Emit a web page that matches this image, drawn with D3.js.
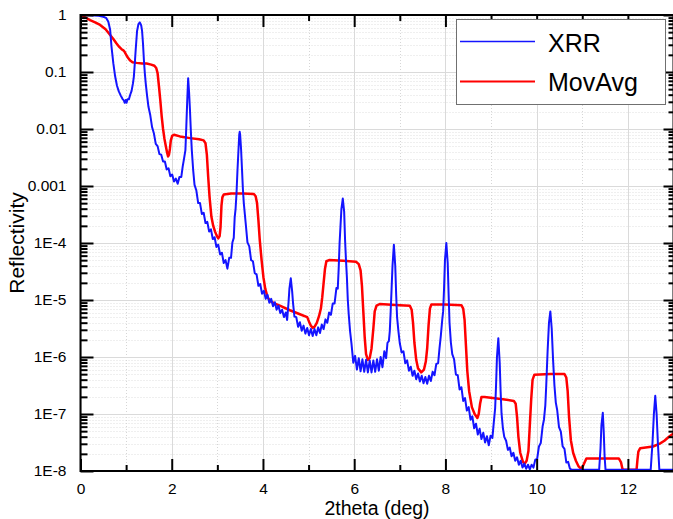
<!DOCTYPE html>
<html>
<head>
<meta charset="utf-8">
<script src="https://cdn.jsdelivr.net/npm/d3@7"></script>
<style>
  html, body { margin: 0; padding: 0; background: #ffffff; }
  svg { display: block; font-family: "Liberation Sans", Arial, sans-serif; }
</style>
</head>
<body>
<svg id="chart" width="673" height="519"></svg>
<script>
// Measured XRR scan: [2theta (deg), log10 reflectivity]
const xrrData = [
  [0,0],[0.2,-0.005],[0.4,-0.015],[0.5,-0.03],[0.56,-0.05],[0.61,-0.12],[0.65,-0.26],[0.68,-0.56],[0.72,-0.85],[0.76,-1.08],
  [0.80,-1.24],[0.84,-1.34],[0.88,-1.41],[0.92,-1.47],[0.95,-1.50],[0.97,-1.54],[0.99,-1.49],[1.01,-1.54],[1.03,-1.48],[1.06,-1.48],
  [1.09,-1.40],[1.12,-1.33],[1.15,-1.20],[1.17,-1.08],[1.19,-0.85],[1.21,-0.61],[1.24,-0.28],[1.27,-0.16],[1.30,-0.13],[1.33,-0.18],
  [1.35,-0.28],[1.37,-0.50],[1.39,-0.79],[1.41,-1.02],[1.43,-1.20],[1.46,-1.42],[1.49,-1.61],
  [1.53,-1.76],[1.57,-1.97],[1.61,-2.08],[1.65,-2.26],[1.69,-2.30],[1.73,-2.44],[1.77,-2.45],[1.81,-2.57],[1.85,-2.57],[1.89,-2.71],
  [1.93,-2.69],[1.97,-2.83],[2.01,-2.80],[2.05,-2.92],[2.09,-2.87],[2.13,-2.96],[2.17,-2.84],[2.21,-2.84],[2.24,-2.66],[2.27,-2.52],
  [2.30,-2.37],[2.32,-1.95],[2.34,-1.50],[2.36,-1.11],[2.38,-1.35],[2.40,-1.67],[2.42,-2.05],[2.44,-2.37],[2.47,-2.72],[2.50,-2.98],
  [2.54,-3.08],[2.58,-3.30],[2.62,-3.30],[2.66,-3.49],[2.70,-3.47],[2.74,-3.65],[2.78,-3.63],[2.82,-3.80],[2.86,-3.76],[2.90,-3.93],
  [2.94,-3.90],[2.98,-4.07],[3.02,-4.03],[3.06,-4.20],[3.10,-4.17],[3.14,-4.35],[3.18,-4.30],[3.22,-4.45],[3.26,-4.26],[3.30,-4.26],
  [3.33,-3.99],[3.36,-3.91],[3.38,-3.55],[3.40,-3.40],[3.42,-3.13],[3.44,-2.75],[3.46,-2.42],[3.48,-2.10],[3.49,-2.05],[3.50,-2.10],
  [3.52,-2.35],[3.54,-2.70],[3.56,-3.05],[3.58,-3.30],
  [3.62,-3.64],[3.66,-3.99],[3.70,-4.06],[3.74,-4.30],[3.78,-4.32],[3.82,-4.53],[3.86,-4.55],[3.90,-4.75],[3.94,-4.72],[3.98,-4.89],
  [4.02,-4.84],[4.06,-4.98],[4.10,-4.91],[4.14,-5.05],[4.18,-4.98],[4.22,-5.11],[4.26,-5.04],[4.30,-5.17],[4.34,-5.10],[4.38,-5.23],
  [4.42,-5.17],[4.46,-5.30],[4.50,-5.22],[4.53,-5.35],[4.56,-5.05],[4.58,-4.80],[4.61,-4.62],[4.64,-4.85],[4.66,-5.06],[4.69,-5.29],
  [4.73,-5.30],[4.77,-5.47],[4.81,-5.39],[4.85,-5.54],[4.89,-5.45],[4.93,-5.59],[4.97,-5.49],[5.01,-5.62],[5.05,-5.51],[5.09,-5.63],
  [5.13,-5.51],[5.17,-5.62],[5.21,-5.48],[5.25,-5.58],[5.29,-5.43],[5.33,-5.51],[5.37,-5.34],[5.41,-5.40],[5.45,-5.22],[5.49,-5.26],
  [5.53,-5.06],[5.57,-5.06],[5.61,-4.79],[5.64,-4.80],[5.66,-4.45],[5.68,-4.00],[5.70,-3.70],[5.72,-3.40],[5.75,-3.22],[5.78,-3.45],
  [5.80,-3.95],[5.82,-4.30],[5.84,-4.60],[5.86,-5.00],[5.88,-5.25],[5.91,-5.55],
  [5.94,-5.76],[5.98,-6.10],[6.02,-5.98],[6.06,-6.22],[6.10,-6.02],[6.14,-6.25],[6.18,-6.04],[6.22,-6.26],[6.26,-6.05],[6.30,-6.27],
  [6.34,-6.06],[6.38,-6.27],[6.42,-6.06],[6.46,-6.26],[6.50,-6.04],[6.54,-6.24],[6.58,-6.00],[6.62,-6.18],[6.66,-5.90],[6.70,-6.02],
  [6.73,-5.75],[6.76,-5.72],[6.78,-5.55],[6.80,-5.20],[6.82,-4.80],[6.84,-4.40],[6.87,-4.03],[6.90,-4.40],[6.92,-4.90],[6.94,-5.30],
  [6.97,-5.55],[7.00,-5.76],
  [7.04,-5.92],[7.08,-5.90],[7.12,-6.11],[7.16,-6.06],[7.20,-6.24],[7.24,-6.17],[7.28,-6.33],[7.32,-6.24],[7.36,-6.39],[7.40,-6.29],
  [7.44,-6.43],[7.48,-6.33],[7.52,-6.46],[7.56,-6.35],[7.60,-6.47],[7.64,-6.33],[7.68,-6.42],[7.72,-6.26],[7.76,-6.32],[7.80,-6.12],
  [7.84,-6.11],[7.87,-5.85],[7.90,-5.62],[7.93,-5.35],[7.95,-5.20],[7.97,-4.80],[7.99,-4.30],[8.02,-4.00],[8.05,-4.35],[8.07,-4.90],
  [8.09,-5.40],[8.12,-5.75],[8.15,-5.95],
  [8.19,-6.04],[8.23,-6.31],[8.27,-6.32],[8.31,-6.57],[8.35,-6.53],[8.39,-6.77],[8.43,-6.72],[8.47,-6.94],[8.51,-6.88],[8.55,-7.10],
  [8.59,-7.04],[8.63,-7.25],[8.67,-7.17],[8.71,-7.36],[8.75,-7.26],[8.79,-7.44],[8.83,-7.33],[8.87,-7.50],[8.91,-7.39],[8.95,-7.55],
  [8.99,-7.38],[9.03,-7.42],[9.06,-7.15],[9.09,-6.90],[9.11,-6.50],[9.13,-6.00],[9.16,-5.67],[9.19,-6.10],[9.21,-6.60],[9.23,-6.99],
  [9.26,-7.25],[9.29,-7.40],
  [9.33,-7.47],[9.37,-7.63],[9.41,-7.59],[9.45,-7.74],[9.49,-7.68],[9.53,-7.82],[9.57,-7.76],[9.61,-7.89],[9.65,-7.82],[9.69,-7.94],
  [9.73,-7.87],[9.77,-7.96],[9.81,-7.89],[9.85,-7.97],[9.89,-7.89],[9.93,-7.94],[9.97,-7.80],[10.01,-7.79],[10.05,-7.57],[10.09,-7.51],
  [10.13,-7.22],[10.16,-7.10],[10.19,-6.85],[10.21,-6.50],[10.24,-5.90],[10.27,-5.40],[10.30,-5.20],[10.33,-5.50],[10.36,-6.05],[10.39,-6.50],
  [10.42,-6.80],[10.45,-6.93],[10.49,-7.23],[10.53,-7.31],[10.57,-7.57],[10.61,-7.61],[10.65,-7.85],[10.69,-7.84],[10.73,-7.96],[10.77,-7.98],
  [11.37,-7.98],[11.40,-7.60],[11.42,-7.20],[11.45,-6.98],[11.47,-7.30],[11.49,-7.75],[11.51,-7.98],
  [12.50,-7.98],[12.54,-7.50],[12.57,-7.00],[12.60,-6.68],[12.63,-7.00],[12.66,-7.55],[12.69,-7.98],[13.0,-7.98]
];

// Moving average of the scan: [2theta (deg), log10 reflectivity]
const movAvgData = [
  [0,0],[0.1,-0.04],[0.21,-0.09],[0.32,-0.13],[0.43,-0.175],[0.55,-0.25],[0.65,-0.35],[0.72,-0.42],[0.79,-0.50],[0.85,-0.56],
  [0.90,-0.60],[0.94,-0.62],[0.97,-0.65],[1.01,-0.71],[1.05,-0.76],[1.09,-0.80],[1.14,-0.83],[1.23,-0.84],[1.35,-0.85],[1.45,-0.85],
  [1.55,-0.87],[1.62,-0.89],[1.66,-0.93],[1.69,-1.02],[1.72,-1.25],[1.75,-1.50],[1.78,-1.78],[1.81,-2.00],[1.84,-2.17],[1.87,-2.30],
  [1.90,-2.42],[1.92,-2.48],[1.94,-2.45],[1.96,-2.35],[1.98,-2.20],[2.01,-2.12],[2.05,-2.10],[2.18,-2.13],[2.40,-2.16],[2.60,-2.18],
  [2.70,-2.20],[2.74,-2.25],[2.77,-2.45],[2.80,-2.85],[2.83,-3.20],[2.87,-3.54],[2.91,-3.70],[2.95,-3.80],[2.99,-3.88],[3.02,-3.92],
  [3.05,-3.88],[3.07,-3.72],[3.09,-3.35],[3.11,-3.20],[3.14,-3.15],[3.30,-3.13],[3.57,-3.13],[3.80,-3.14],[3.84,-3.18],[3.87,-3.30],
  [3.90,-3.60],[3.93,-3.95],[3.97,-4.30],[4.01,-4.60],[4.05,-4.80],[4.10,-4.95],[4.16,-5.02],[4.25,-5.06],[4.37,-5.10],[4.59,-5.18],
  [4.81,-5.25],[4.97,-5.30],[5.01,-5.38],[5.05,-5.45],[5.09,-5.49],[5.13,-5.47],[5.18,-5.40],[5.23,-5.28],[5.27,-5.15],[5.30,-4.95],
  [5.33,-4.70],[5.36,-4.45],[5.39,-4.32],[5.45,-4.30],[5.76,-4.31],[6.04,-4.33],[6.10,-4.37],[6.14,-4.48],[6.17,-4.75],[6.20,-5.20],
  [6.23,-5.65],[6.26,-5.95],[6.30,-6.05],[6.34,-6.02],[6.38,-5.85],[6.42,-5.50],[6.45,-5.20],[6.49,-5.10],[6.56,-5.07],[7.00,-5.09],
  [7.22,-5.10],[7.26,-5.17],[7.29,-5.40],[7.32,-5.75],[7.36,-6.05],[7.40,-6.20],[7.47,-6.27],[7.53,-6.22],[7.57,-6.08],[7.60,-5.85],
  [7.63,-5.45],[7.66,-5.15],[7.69,-5.08],[8.00,-5.08],[8.35,-5.09],[8.39,-5.15],[8.42,-5.35],[8.45,-5.80],[8.48,-6.25],[8.52,-6.60],
  [8.58,-6.88],[8.64,-7.00],[8.70,-7.07],[8.73,-7.00],[8.76,-6.82],[8.79,-6.70],[8.86,-6.70],[9.26,-6.74],[9.50,-6.77],[9.54,-6.82],
  [9.57,-7.05],[9.60,-7.40],[9.64,-7.68],[9.70,-7.84],[9.74,-7.87],[9.78,-7.82],[9.82,-7.65],[9.85,-7.20],[9.88,-6.75],[9.91,-6.40],
  [9.95,-6.31],[10.30,-6.30],[10.61,-6.30],[10.65,-6.36],[10.68,-6.60],[10.71,-7.05],[10.75,-7.46],[10.80,-7.68],[10.86,-7.82],[10.92,-7.92],
  [10.97,-7.96],[11.01,-7.92],[11.05,-7.85],[11.09,-7.78],[11.80,-7.78],[11.85,-7.85],[11.88,-7.96],[11.91,-7.98],[12.19,-7.98],[12.21,-7.80],
  [12.23,-7.66],[12.27,-7.60],[12.55,-7.57],[12.70,-7.52],[12.80,-7.47],[12.90,-7.40],[13.0,-7.34]
];

const xMajorTicks = [0, 2, 4, 6, 8, 10, 12];
const xMinorTicks = [1, 3, 5, 7, 9, 11];
const yDecades = [1, 1e-1, 1e-2, 1e-3, 1e-4, 1e-5, 1e-6, 1e-7, 1e-8];
const yTickLabels = ["1", "0.1", "0.01", "0.001", "1E-4", "1E-5", "1E-6", "1E-7", "1E-8"];
const seriesNames = ["XRR", "MovAvg"];
const xTitle = "2theta (deg)";
const yTitle = "Reflectivity";

const W = 673, H = 519;
const plot = { left: 80.5, right: 673.5, top: 15, bottom: 471 };
const colors = { xrr: "#1414ff", avg: "#ff0000" };

const svg = d3.select("#chart");
svg.append("rect").attr("width", W).attr("height", H).attr("fill", "#ffffff");

const x = d3.scaleLinear().domain([0, 13]).range([plot.left, plot.right]);
const y = d3.scaleLog().domain([1e-8, 1]).range([plot.bottom, plot.top]);

// minor log ticks 2..9 within each decade
const yMinor = [];
yDecades.slice(1).forEach(d => { for (let m = 2; m <= 9; m++) yMinor.push(d * m); });

// grid
const grid = svg.append("g");
grid.selectAll(".gy").data(yMinor).join("line")
  .attr("x1", plot.left).attr("x2", plot.right)
  .attr("y1", d => Math.round(y(d)) + 0.5).attr("y2", d => Math.round(y(d)) + 0.5)
  .attr("stroke", "#dedede").attr("stroke-width", 1).attr("stroke-dasharray", "1,2");
grid.selectAll(".gx").data(xMinorTicks).join("line")
  .attr("x1", d => Math.round(x(d)) + 0.5).attr("x2", d => Math.round(x(d)) + 0.5)
  .attr("y1", plot.top).attr("y2", plot.bottom)
  .attr("stroke", "#d6d6d6").attr("stroke-width", 1).attr("stroke-dasharray", "1,2");
grid.selectAll(".gY").data(yDecades).join("line")
  .attr("x1", plot.left).attr("x2", plot.right)
  .attr("y1", d => Math.round(y(d)) + 0.5).attr("y2", d => Math.round(y(d)) + 0.5)
  .attr("stroke", "#dadada").attr("stroke-width", 1);
grid.selectAll(".gX").data(xMajorTicks).join("line")
  .attr("x1", d => Math.round(x(d)) + 0.5).attr("x2", d => Math.round(x(d)) + 0.5)
  .attr("y1", plot.top).attr("y2", plot.bottom)
  .attr("stroke", "#dadada").attr("stroke-width", 1);

// curves
svg.append("clipPath").attr("id", "clip").append("rect")
  .attr("x", plot.left).attr("y", plot.top - 2)
  .attr("width", plot.right - plot.left).attr("height", plot.bottom - plot.top + 2);

const line = d3.line()
  .x(d => x(d[0]))
  .y(d => y(Math.pow(10, d[1])))
  .curve(d3.curveLinear);

const curves = svg.append("g").attr("clip-path", "url(#clip)");
curves.append("path").datum(movAvgData).attr("d", line)
  .attr("fill", "none").attr("stroke", colors.avg).attr("stroke-width", 2.5)
  .attr("stroke-linejoin", "round");
curves.append("path").datum(xrrData).attr("d", line)
  .attr("fill", "none").attr("stroke", colors.xrr).attr("stroke-width", 2)
  .attr("stroke-linejoin", "round");

// axes with inward ticks
const tickStyle = g => {
  g.select(".domain").remove();
  g.selectAll(".tick line").attr("stroke", "#000").attr("stroke-width", 2);
  g.selectAll(".tick text").attr("fill", "#000").style("font-size", "15.5px")
    .style("font-family", "'Liberation Sans', Arial, sans-serif");
};

svg.append("g").attr("transform", `translate(0,${plot.bottom})`)
  .call(d3.axisBottom(x).tickValues(xMajorTicks).tickFormat(d3.format("d")).tickSize(-12).tickPadding(12))
  .call(tickStyle);
svg.append("g").attr("transform", `translate(0,${plot.bottom})`)
  .call(d3.axisBottom(x).tickValues(xMinorTicks).tickFormat("").tickSize(-6))
  .call(tickStyle);
svg.append("g").attr("transform", `translate(0,${plot.top})`)
  .call(d3.axisTop(x).tickValues(xMajorTicks).tickFormat("").tickSize(-12))
  .call(tickStyle);
svg.append("g").attr("transform", `translate(0,${plot.top})`)
  .call(d3.axisTop(x).tickValues(xMinorTicks).tickFormat("").tickSize(-6))
  .call(tickStyle);

svg.append("g").attr("transform", `translate(${plot.left},0)`)
  .call(d3.axisLeft(y).tickValues(yDecades).tickFormat((d, i) => yTickLabels[i]).tickSize(-13).tickPadding(14))
  .call(tickStyle);
svg.append("g").attr("transform", `translate(${plot.left},0)`)
  .call(d3.axisLeft(y).tickValues(yMinor).tickFormat("").tickSize(-7))
  .call(tickStyle);
svg.append("g").attr("transform", `translate(${plot.right},0)`)
  .call(d3.axisRight(y).tickValues(yDecades).tickFormat("").tickSize(-10))
  .call(tickStyle);
svg.append("g").attr("transform", `translate(${plot.right},0)`)
  .call(d3.axisRight(y).tickValues(yMinor).tickFormat("").tickSize(-5))
  .call(tickStyle);

// frame
svg.append("rect")
  .attr("x", plot.left).attr("y", plot.top)
  .attr("width", plot.right - plot.left).attr("height", plot.bottom - plot.top)
  .attr("fill", "none").attr("stroke", "#000").attr("stroke-width", 2);

// axis titles
svg.append("text").attr("x", (plot.left + plot.right) / 2).attr("y", 515)
  .attr("text-anchor", "middle").style("font-size", "19.5px").attr("fill", "#000")
  .text(xTitle);
svg.append("text").attr("transform", `translate(24,${(plot.top + plot.bottom) / 2}) rotate(-90)`)
  .attr("text-anchor", "middle").style("font-size", "21px").attr("fill", "#000")
  .text(yTitle);

// legend
const legend = svg.append("g");
legend.append("rect").attr("x", 456.5).attr("y", 19.5).attr("width", 209).attr("height", 85)
  .attr("fill", "#ffffff").attr("stroke", "#707070").attr("stroke-width", 1);
const legendRows = [
  { name: seriesNames[0], color: colors.xrr, width: 1.6, ly: 41.5, ty: 51.5 },
  { name: seriesNames[1], color: colors.avg, width: 2, ly: 81.5, ty: 90.5 }
];
legendRows.forEach(r => {
  legend.append("line").attr("x1", 460).attr("x2", 535).attr("y1", r.ly).attr("y2", r.ly)
    .attr("stroke", r.color).attr("stroke-width", r.width);
  legend.append("text").attr("x", 548).attr("y", r.ty)
    .style("font-size", "25px").attr("fill", "#000").text(r.name);
});
</script>
</body>
</html>
